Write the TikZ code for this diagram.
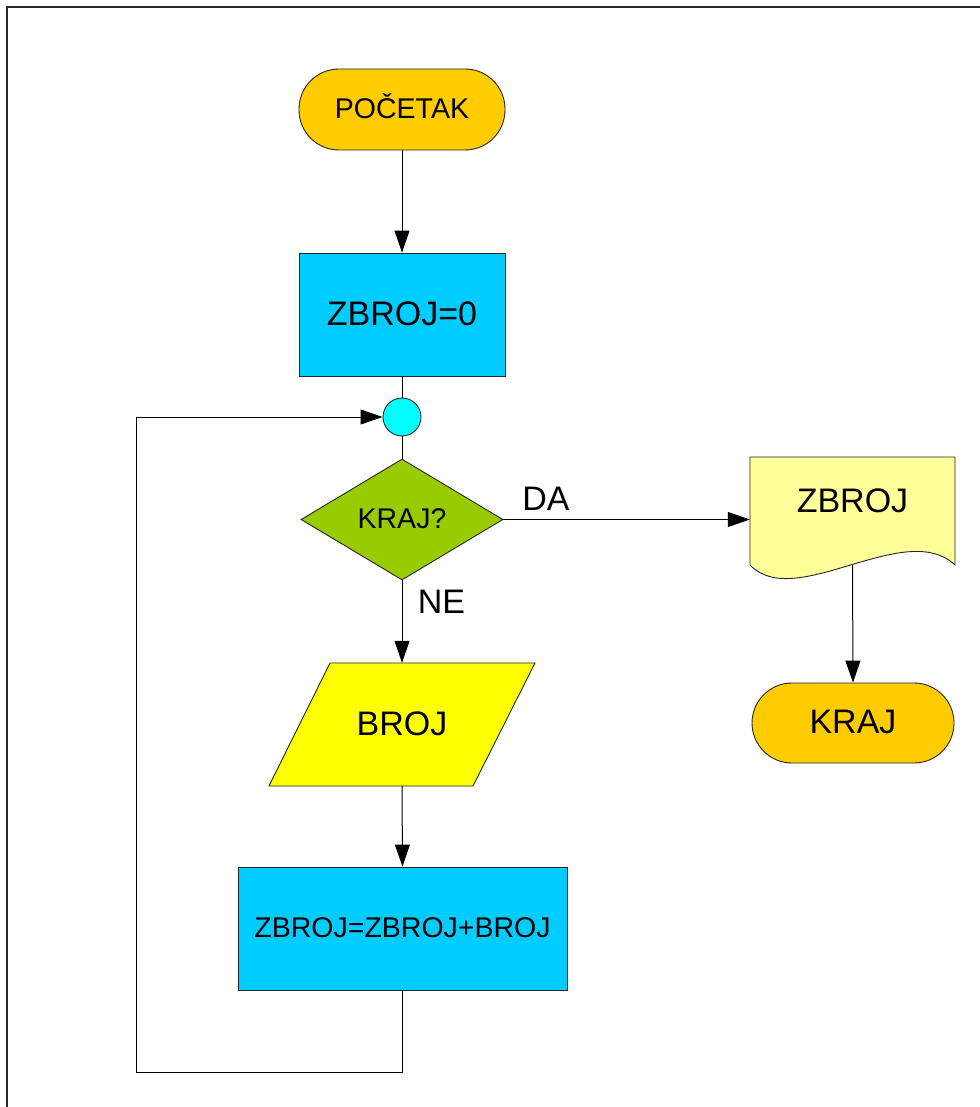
\documentclass[tikz,border=0pt]{standalone}
\usepackage{fontspec}
\setmainfont{Liberation Sans}
\usetikzlibrary{shapes.geometric,arrows.meta}
\definecolor{cOrange}{HTML}{FFCC00}
\definecolor{cBlue}{HTML}{00CCFF}
\definecolor{cCyan}{HTML}{00FFFF}
\definecolor{cGreen}{HTML}{99CC00}
\definecolor{cYellow}{HTML}{FFFF00}
\definecolor{cPale}{HTML}{FFFF99}
\tikzset{
  shapeline/.style={draw=black!85,line width=0.9pt},
  bigtext/.style={font=\fontsize{34}{36}\selectfont,text height=24.5pt,text depth=2.7pt,inner sep=0pt},
  smalltext/.style={font=\fontsize{28.5}{30}\selectfont,text height=20.5pt,text depth=2.3pt,inner sep=0pt},
  terminal/.style={shapeline,fill=cOrange,rounded corners=40pt,rectangle},
  procbox/.style={shapeline,fill=cBlue,rectangle},
  decbox/.style={shapeline,fill=cGreen,diamond},
  conline/.style={draw=black,line width=1pt},
  arr/.style={conline,-{Triangle[length=22pt,width=15pt]}},
}
\begin{document}
\begin{tikzpicture}[x=1pt,y=-1pt]
\useasboundingbox (0,0) rectangle (979,1107);
% outer frame (top and left edges visible)
\draw[black!85,line width=1.3pt] (7,1120) -- (7,7) -- (990,7);

% nodes
\node[terminal,smalltext,minimum width=206pt,minimum height=81pt] (start) at (402,109.5) {POČETAK};
\node[procbox,bigtext,minimum width=206pt,minimum height=123pt] (init) at (402,314.5) {ZBROJ=0};
\node[shapeline,fill=cCyan,circle,minimum size=38pt,inner sep=0pt] (conn) at (402,417) {};
\node[decbox,smalltext,minimum width=202pt,minimum height=121pt] (dec) at (402,519.5) {KRAJ?};

% parallelogram (input)
\filldraw[shapeline,fill=cYellow] (330,663) -- (535,663) -- (473,786) -- (269,786) -- cycle;
\node[bigtext,minimum width=205pt,minimum height=123pt] (broj) at (402,724.5) {BROJ};

\node[procbox,smalltext,minimum width=329pt,minimum height=123pt] (sum) at (402.5,928.5) {ZBROJ=ZBROJ+BROJ};

% document (output)
\filldraw[shapeline,fill=cPale] (750,565) -- (750,457) -- (955,457) -- (955,565)
  .. controls (905,518) and (795,612) .. (750,565) -- cycle;
\node[bigtext,minimum width=205pt] (doc) at (852.5,502) {ZBROJ};
\coordinate (docb) at (852.5,565);

\node[terminal,bigtext,minimum width=202pt,minimum height=80pt] (endk) at (853,723) {KRAJ};

% connectors
\draw[arr] (start.south) -- (init.north);
\draw[conline] (init.south) -- (conn.north);
\draw[conline] (conn.south) -- (dec.north);
\draw[arr] (dec.south) -- (broj.north);
\draw[arr] (broj.south) -- (sum.north);
\draw[arr] (dec.east) -- (dec.east -| doc.west);
\draw[arr] (docb) -- (endk.north);
\coordinate (lb) at (136,1072);
\draw[arr] (sum.south) |- (lb) |- (conn.west);

% labels
\node[bigtext] (lda) at (546,500) {DA};
\node[bigtext] (lne) at (441.5,602.5) {NE};
\end{tikzpicture}
\end{document}
